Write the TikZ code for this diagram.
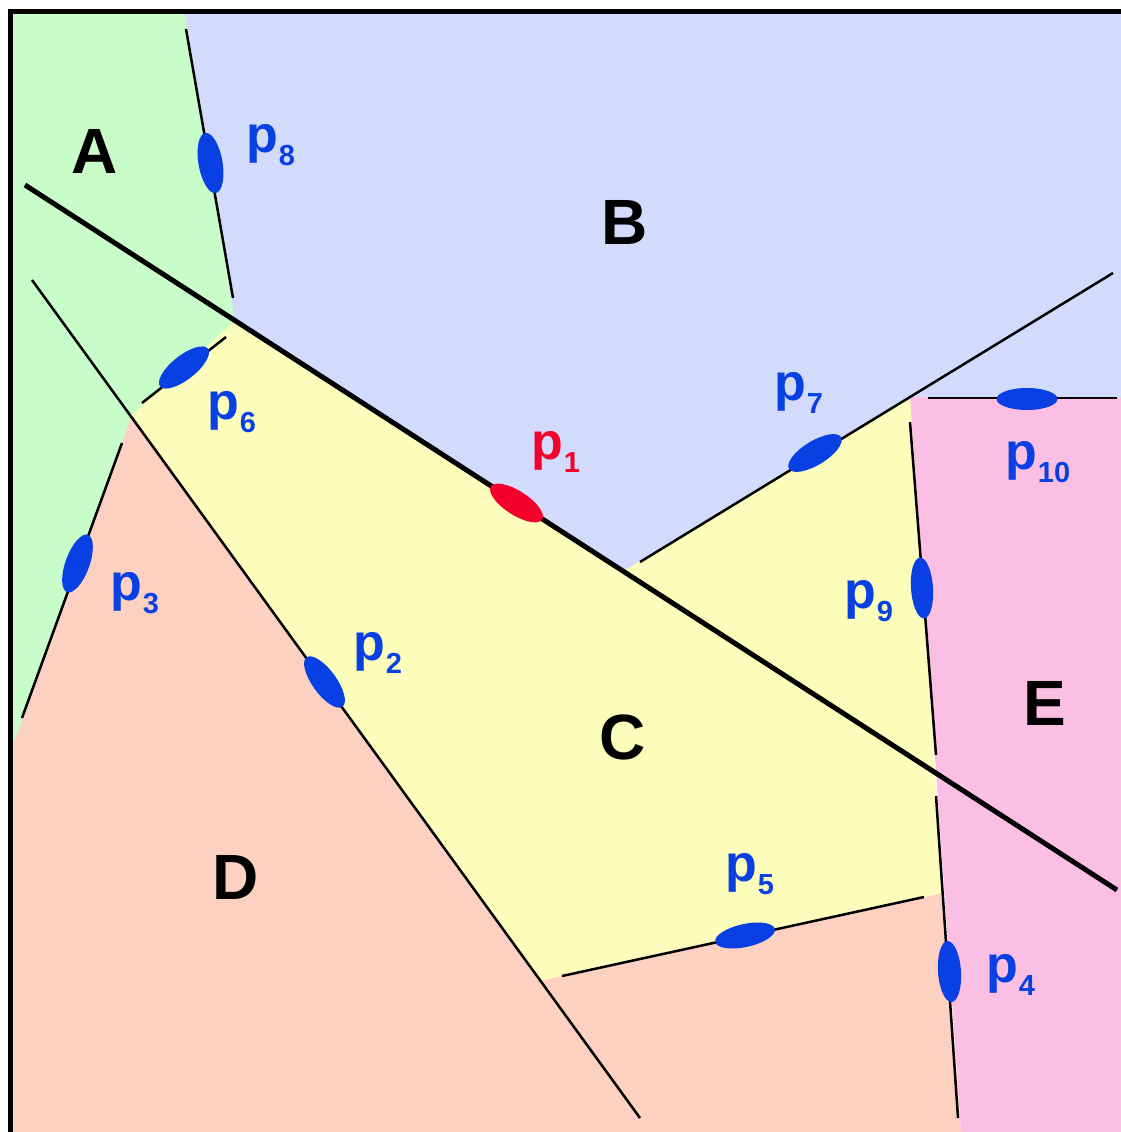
\documentclass[tikz,border=0pt]{standalone}
\usepackage{fontspec}
\setmainfont{Liberation Sans}
\usetikzlibrary{shapes.geometric}
\definecolor{regA}{RGB}{200,252,200}
\definecolor{regB}{RGB}{211,219,252}
\definecolor{regC}{RGB}{252,253,187}
\definecolor{regD}{RGB}{252,209,193}
\definecolor{regE}{RGB}{252,191,228}
\definecolor{ptblue}{RGB}{8,64,228}
\definecolor{ptred}{RGB}{245,0,45}
\tikzset{
  thinedge/.style={line width=2.5pt, draw=black},
  thickedge/.style={line width=5pt, draw=black},
  site/.style={ellipse, fill=ptblue, draw=none, inner sep=0pt, minimum width=61pt, minimum height=24pt},
  regionlabel/.style={inner sep=0pt, font=\fontsize{64}{64}\selectfont\bfseries},
  plabel/.style={anchor=base west, inner sep=0pt, text=ptblue, font=\bfseries},
}
\newcommand\pl[1]{{\fontsize{52}{52}\selectfont p}\kern1pt\raisebox{-13pt}{\fontsize{29}{29}\selectfont #1}}
\begin{document}
\begin{tikzpicture}[x=1pt,y=-1pt]
\useasboundingbox (0,0) rectangle (1121,1132);
% regions
\fill[regA] (13,13) -- (185,13) -- (235,321) -- (132,415) -- (13,745) -- cycle;
\fill[regB] (185,13) -- (1121,13) -- (1121,397) -- (910,397) -- (624,571) -- (235,321) -- cycle;
\fill[regC] (132,415) -- (235,321) -- (624,571) -- (910,397) -- (943,893) -- (540.5,980.7) -- cycle;
\fill[regD] (13,745) -- (132,415) -- (540.5,980.7) -- (943,893) -- (961,1132) -- (13,1132) -- cycle;
\fill[regE] (910,397) -- (1121,397) -- (1121,1132) -- (961,1132) -- cycle;
% endpoints
\coordinate (a1) at (186,29);   \coordinate (a2) at (233,298);
\coordinate (t1) at (25,185);   \coordinate (t2) at (1117,890);
\coordinate (l1) at (32,280);   \coordinate (l2) at (640,1118);
\coordinate (s1) at (142,403);  \coordinate (s2) at (226,337);
\coordinate (r1) at (122,443);  \coordinate (r2) at (22,718);
\coordinate (m1) at (640,562);  \coordinate (m2) at (1113,273);
\coordinate (h1) at (928,398);  \coordinate (h2) at (1117,398);
\coordinate (v1) at (910,422);  \coordinate (v2) at (936,755);
\coordinate (w1) at (936,796);  \coordinate (w2) at (958,1118);
\coordinate (f1) at (562,976);  \coordinate (f2) at (924,897);
% edges
\draw[thinedge] (a1) -- (a2);
\draw[thinedge] (l1) -- (l2);
\draw[thinedge] (s1) -- (s2);
\draw[thinedge] (r1) -- (r2);
\draw[thinedge] (m1) -- (m2);
\draw[thinedge] (h1) -- (h2);
\draw[thinedge] (v1) -- (v2);
\draw[thinedge] (w1) -- (w2);
\draw[thinedge] (f1) -- (f2);
\draw[thickedge] (t1) -- (t2);
% sites
\node[site, fill=ptred, rotate=-32.85] (e1) at (516.5,503) {};
\node[site, rotate=-54] (e2) at (324.5,682) {};
\node[site, rotate=70] (e3) at (77.5,563.5) {};
\node[site, rotate=-86.1, minimum height=23pt] (e4) at (949.5,971.5) {};
\node[site, rotate=12.3, minimum height=23pt] (e5) at (745,935.5) {};
\node[site, rotate=38.2] (e6) at (184,367.5) {};
\node[site, rotate=31.4] (e7) at (815,453) {};
\node[site, rotate=-80.1, minimum height=24pt] (e8) at (210.5,163) {};
\node[site, rotate=-86.1, minimum height=22pt] (e9) at (922,588) {};
\node[site, minimum height=22pt] (e10) at (1027,399) {};
% point labels
\node[plabel, text=ptred] (q1) at (531,459) {\pl{1}};
\node[plabel] (q2) at (353,660) {\pl{2}};
\node[plabel] (q3) at (110,600) {\pl{3}};
\node[plabel] (q4) at (986,982) {\pl{4}};
\node[plabel] (q5) at (725,881) {\pl{5}};
\node[plabel] (q6) at (207,419) {\pl{6}};
\node[plabel] (q7) at (774,400) {\pl{7}};
\node[plabel] (q8) at (246,152) {\pl{8}};
\node[plabel] (q9) at (844,608) {\pl{9}};
\node[plabel] (q10) at (1005,469) {\pl{10}};
% region labels
\node[regionlabel] (A) at (94.5,151.5) {A};
\node[regionlabel] (B) at (624.5,222.5) {B};
\node[regionlabel] (C) at (623,737) {C};
\node[regionlabel] (D) at (236,877) {D};
\node[regionlabel] (E) at (1045,703) {E};
% frame
\draw[line width=5pt, line join=miter] (10.8,1132) -- (10.8,11.7) -- (1121,11.7);
\end{tikzpicture}
\end{document}
